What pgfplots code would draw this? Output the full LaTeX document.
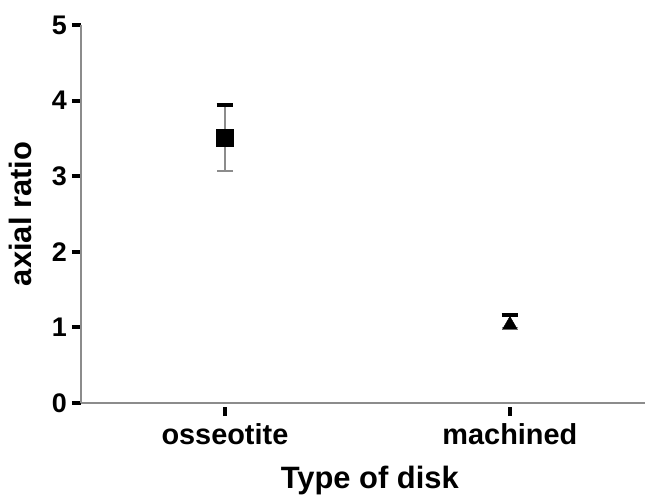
\documentclass[border=0pt]{standalone}
\usepackage{fontspec}
\setmainfont{Liberation Sans}
\usepackage{pgfplots}
\pgfplotsset{compat=1.18}
\begin{document}
\begin{tikzpicture}
\begin{axis}[
scale only axis,
width=564bp, height=378bp,
xmin=-0.505, xmax=1.474,
ymin=0, ymax=5,
axis lines=left,
axis line style={-, draw=black!45, line width=1.2bp},
clip=false,
xtick={0,1},
xticklabels={osseotite, machined},
ytick={0,1,2,3,4,5},
tick align=outside,
major tick length=9bp,
ytick style={black, line width=4bp},
xtick style={black, line width=4.5bp, yshift=-4bp},
/pgf/number format/assume math mode=true,
ticklabel style={inner sep=0pt},
xticklabel style={font=\bfseries\fontsize{29}{34}\selectfont, anchor=north, yshift=-11bp},
yticklabel style={font=\bfseries\fontsize{27}{32}\selectfont, anchor=east, xshift=-5bp},
xlabel={Type of disk},
ylabel={axial ratio},
label style={font=\bfseries\fontsize{31}{37}\selectfont, inner sep=0pt},
xlabel style={at={(axis description cs:0.512,-0.2275)}, anchor=base},
ylabel style={at={(axis description cs:-0.0869,0.5)}, anchor=base},
]
%% error bars, upper part with heavy cap
\addplot[draw=none, mark=none,
  error bars/.cd, y dir=plus, y explicit,
  error bar style={black!45, line width=1.2bp},
  error mark options={black, line width=4bp, mark size=8.3bp, rotate=90}]
  coordinates {(0,3.505) +- (0,0.44) (1,1.03) +- (0,0.135)};
%% lower part with thin cap
\addplot[draw=none, mark=none,
  error bars/.cd, y dir=minus, y explicit,
  error bar style={black!45, line width=1.2bp},
  error mark options={black!45, line width=1.2bp, mark size=8.3bp, rotate=90}]
  coordinates {(0,3.505) +- (0,0.435) (1,1.03) +- (0,0.03)};
%% osseotite
\addplot[only marks, mark=square*, mark size=8.5bp, black] coordinates {(0,3.505)};
%% machined
\addplot[only marks, mark=triangle*, mark size=8.7bp, black] coordinates {(1,1.03)};
\end{axis}
\path ([xshift=-81bp,yshift=-95bp]current axis.south west) rectangle ([xshift=1bp,yshift=25bp]current axis.north east);
\end{tikzpicture}
\end{document}
